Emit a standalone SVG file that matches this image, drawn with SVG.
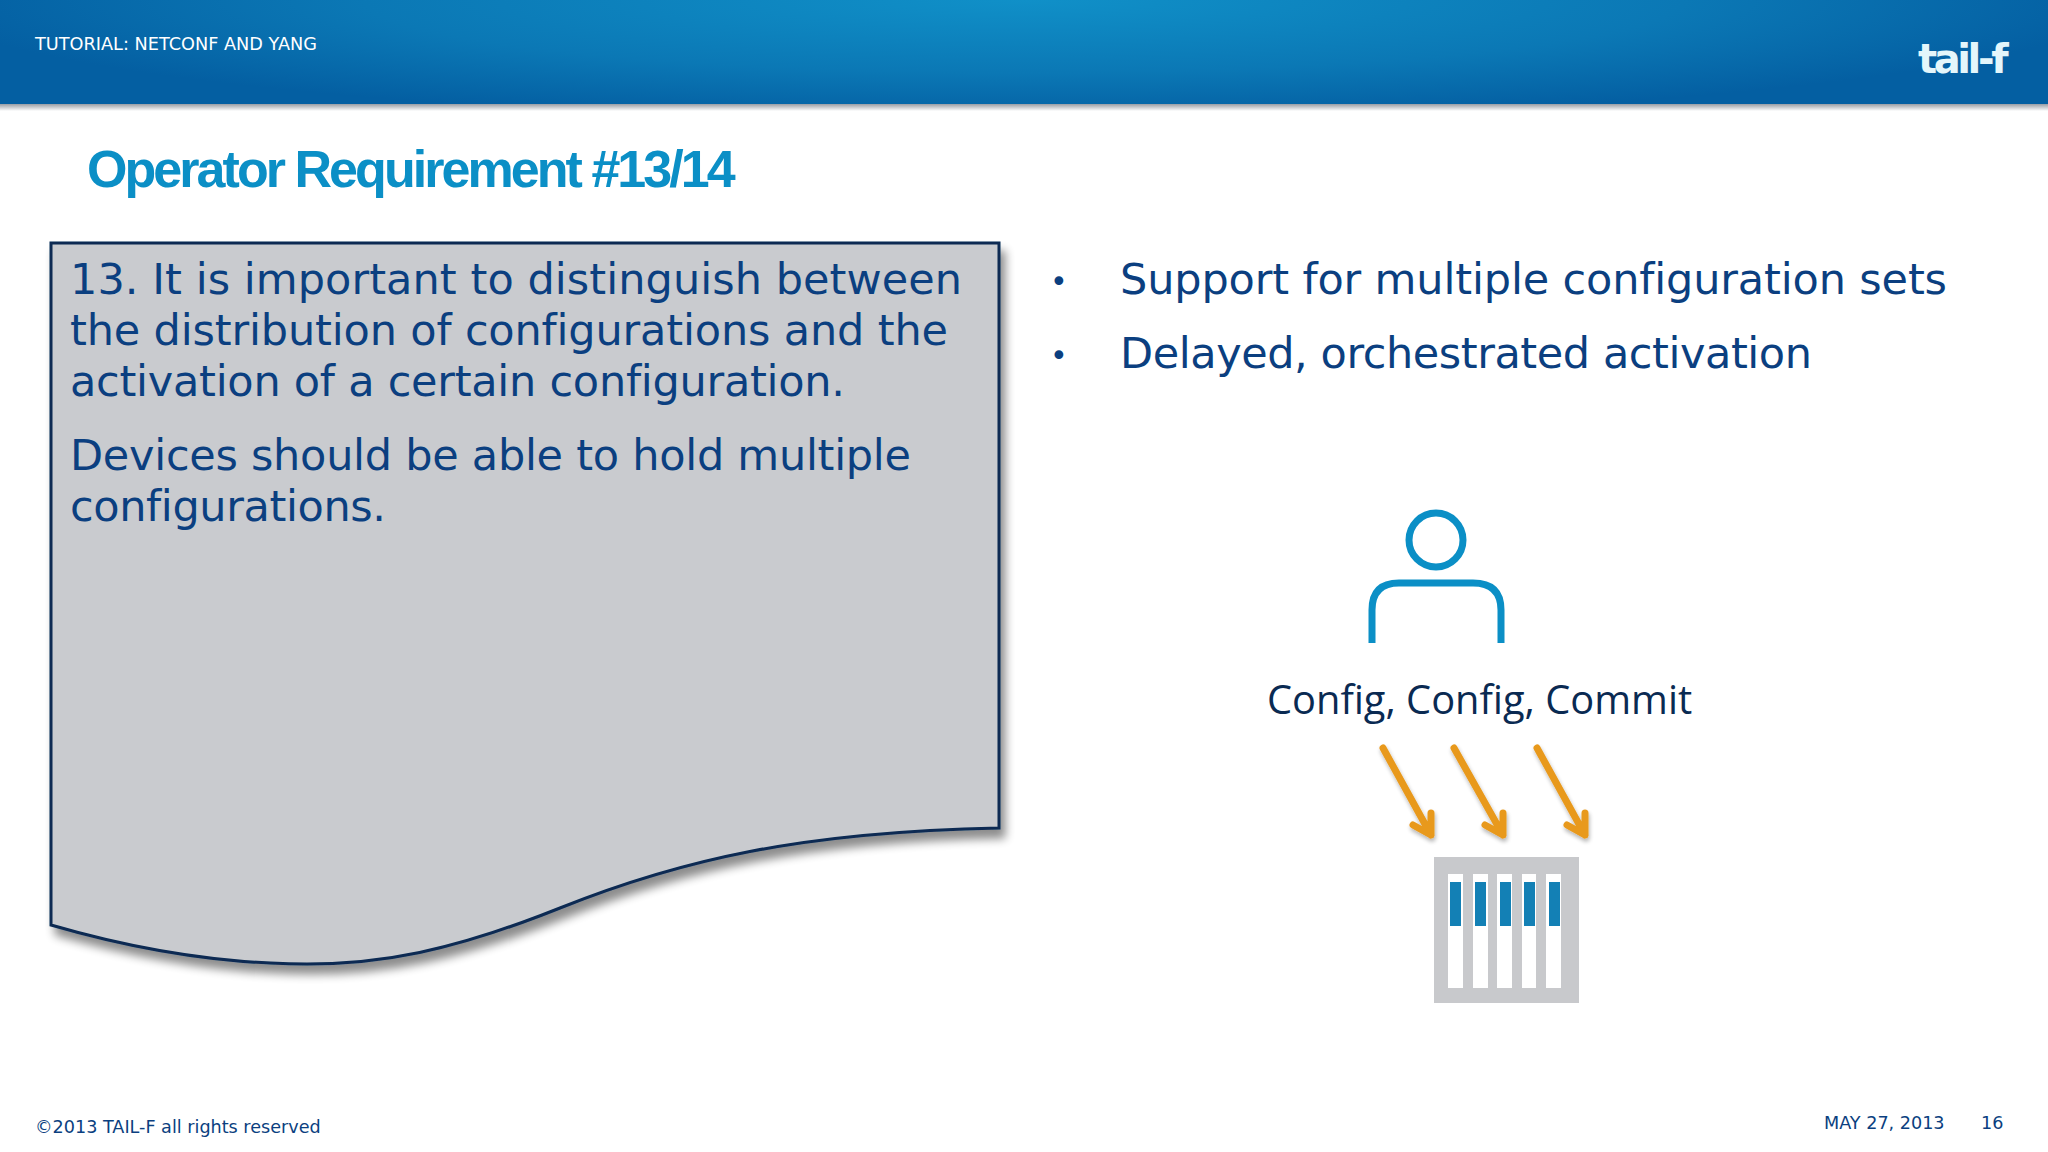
<svg xmlns="http://www.w3.org/2000/svg" width="2048" height="1152" viewBox="0 0 2048 1152">
<style>
.b{font-family:"DejaVu Sans",Verdana,sans-serif;font-size:43px;fill:#0b3f80;font-variant-ligatures:none}
.d{font-size:30px}
.s{font-family:"DejaVu Sans",Verdana,sans-serif;font-size:17.6px}
.arrow{fill:none;stroke:#e8991c;stroke-width:7;stroke-linecap:round;stroke-linejoin:round}
</style>
<defs>
<radialGradient id="hdr" gradientUnits="userSpaceOnUse" cx="1024" cy="0" r="1100" gradientTransform="matrix(1 0 0 0.11 0 0)">
<stop offset="0" stop-color="#1090c8"/><stop offset="0.6" stop-color="#0b78b5"/><stop offset="1" stop-color="#045fa2"/></radialGradient>
<linearGradient id="sh" x1="0" y1="0" x2="0" y2="1"><stop offset="0" stop-color="#8a8f98"/><stop offset="1" stop-color="#fff"/></linearGradient>
<filter id="ds" x="-5%" y="-5%" width="110%" height="110%"><feGaussianBlur in="SourceAlpha" stdDeviation="5"/><feOffset dx="5" dy="9"/><feComponentTransfer><feFuncA type="linear" slope="0.45"/></feComponentTransfer><feMerge><feMergeNode/><feMergeNode in="SourceGraphic"/></feMerge></filter>
<filter id="as" x="-30%" y="-30%" width="160%" height="160%"><feGaussianBlur in="SourceAlpha" stdDeviation="2"/><feOffset dx="1" dy="3"/><feComponentTransfer><feFuncA type="linear" slope="0.3"/></feComponentTransfer><feMerge><feMergeNode/><feMergeNode in="SourceGraphic"/></feMerge></filter>
</defs>
<rect width="2048" height="1152" fill="#fff"/>
<g id="header">
<rect y="103" width="2048" height="8" fill="url(#sh)"/>
<rect width="2048" height="104" fill="url(#hdr)"/>
<text x="35" y="50" font-family="'DejaVu Sans',sans-serif" font-size="17.7" fill="#fff">TUTORIAL: NETCONF AND YANG</text>
<text x="1918" y="73" font-family="'DejaVu Sans',sans-serif" font-size="40" font-weight="bold" letter-spacing="-3.4" fill="#e4f6fb">tail-f</text>
</g>
<text id="title" x="87" y="187" font-family="'Liberation Sans',Arial,sans-serif" font-size="52" font-weight="bold" letter-spacing="-2.95" fill="#0b8fc6">Operator Requirement #13/14</text>
<g id="document">
<path d="M51 243H999V828C800 832 680 860 560 908C450 952 380 964 307 964C220 964 130 948 51 925Z" fill="#c9cbcf" stroke="#0a2a52" stroke-width="3" filter="url(#ds)"/>
<text class="b" x="70" y="294" textLength="892">13. It is important to distinguish between</text>
<text class="b" x="70" y="345" textLength="878">the distribution of configurations and the</text>
<text class="b" x="70" y="396" textLength="775">activation of a certain configuration.</text>
<text class="b" x="70" y="470" textLength="841">Devices should be able to hold multiple</text>
<text class="b" x="70" y="521" textLength="316">configurations.</text>
</g>
<g id="bullets">
<text class="b d" x="1050" y="292">•</text>
<text class="b" x="1120" y="294" textLength="827">Support for multiple configuration sets</text>
<text class="b d" x="1050" y="366">•</text>
<text class="b" x="1120" y="368" textLength="692">Delayed, orchestrated activation</text>
</g>
<g id="person" fill="none" stroke="#0b8fc6" stroke-width="7">
<circle cx="1436" cy="540" r="27"/>
<path d="M1372 643V610Q1372 583 1399 583H1473Q1501 583 1501 610V643"/>
</g>
<text id="label" x="1267" y="714" font-family="'Open Sans','Noto Sans',sans-serif" font-size="39.8" fill="#0a2a52">Config, Config, Commit</text>
<g id="connectors" class="arrow" filter="url(#as)">
<path d="M1383 748L1431 835M1431 813V835L1413 825"/>
<path d="M1454 748L1503 835M1503 813V835L1485 825"/>
<path d="M1537 748L1585 835M1585 813V835L1567 825"/>
</g>
<g id="device">
<rect x="1434" y="857" width="145" height="146" fill="#c8c9cc"/>
<g fill="#fff"><rect x="1448" y="874" width="15" height="114"/><rect x="1473" y="874" width="15" height="114"/><rect x="1497" y="874" width="15" height="114"/><rect x="1522" y="874" width="14" height="114"/><rect x="1546" y="874" width="15" height="114"/></g>
<g fill="#1380b5"><rect x="1450" y="882" width="11" height="44"/><rect x="1475" y="882" width="11" height="44"/><rect x="1500" y="882" width="11" height="44"/><rect x="1524" y="882" width="11" height="44"/><rect x="1549" y="882" width="11" height="44"/></g>
</g>
<g id="footer" fill="#0b3f80">
<text class="s" x="35" y="1133">©2013 TAIL-F all rights reserved</text>
<text class="s" x="1824" y="1129">MAY 27, 2013</text>
<text class="s" x="1981" y="1129">16</text>
</g>
</svg>
